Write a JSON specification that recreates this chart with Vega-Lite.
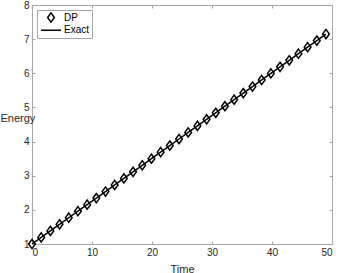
{
  "$schema": "https://vega.github.io/schema/vega-lite/v6.json",
  "width": 300,
  "height": 239,
  "autosize": "none",
  "padding": {"left": 32, "top": 5, "right": 6, "bottom": 29},
  "background": "white",
  "config": {
    "view": {"stroke": null},
    "font": "Liberation Sans",
    "axis": {
      "domainColor": "#a6a6a6",
      "domainWidth": 1,
      "tickColor": "#a6a6a6",
      "tickSize": -3,
      "grid": false,
      "labelFontSize": 10,
      "labelColor": "#262626",
      "labelPadding": 6,
      "titleFontSize": 11,
      "titleFontWeight": "normal",
      "titleColor": "#262626"
    }
  },
  "data": {
    "values": [
      {"t": 0, "E": 1.0},
      {"t": 1.531, "E": 1.192},
      {"t": 3.063, "E": 1.384},
      {"t": 4.594, "E": 1.577},
      {"t": 6.125, "E": 1.769},
      {"t": 7.656, "E": 1.961},
      {"t": 9.188, "E": 2.153},
      {"t": 10.719, "E": 2.345},
      {"t": 12.25, "E": 2.537},
      {"t": 13.781, "E": 2.730},
      {"t": 15.313, "E": 2.922},
      {"t": 16.844, "E": 3.114},
      {"t": 18.375, "E": 3.306},
      {"t": 19.906, "E": 3.498},
      {"t": 21.438, "E": 3.690},
      {"t": 22.969, "E": 3.883},
      {"t": 24.5, "E": 4.075},
      {"t": 26.031, "E": 4.267},
      {"t": 27.563, "E": 4.459},
      {"t": 29.094, "E": 4.651},
      {"t": 30.625, "E": 4.843},
      {"t": 32.156, "E": 5.036},
      {"t": 33.688, "E": 5.228},
      {"t": 35.219, "E": 5.420},
      {"t": 36.75, "E": 5.612},
      {"t": 38.281, "E": 5.804},
      {"t": 39.813, "E": 5.996},
      {"t": 41.344, "E": 6.189},
      {"t": 42.875, "E": 6.381},
      {"t": 44.406, "E": 6.573},
      {"t": 45.938, "E": 6.765},
      {"t": 47.469, "E": 6.957},
      {"t": 49, "E": 7.150}
    ]
  },
  "resolve": {"axis": {"x": "independent", "y": "independent"}},
  "layer": [
    {
      "mark": {"type": "line", "color": "black", "strokeWidth": 1.5},
      "encoding": {
        "x": {
          "field": "t", "type": "quantitative",
          "scale": {"domain": [0, 50], "nice": false, "zero": false},
          "axis": {"orient": "bottom", "title": "Time", "values": [0, 10, 20, 30, 40, 50], "titleBaseline": "alphabetic", "titleY": 28}
        },
        "y": {
          "field": "E", "type": "quantitative",
          "scale": {"domain": [1, 8], "nice": false, "zero": false},
          "axis": {"orient": "left", "title": "Energy", "values": [1, 2, 3, 4, 5, 6, 7, 8], "titleAngle": 0, "titleX": -32, "titleY": 116, "titleAlign": "left", "titleBaseline": "alphabetic"}
        }
      }
    },
    {
      "mark": {"type": "point", "filled": false, "color": "black", "strokeWidth": 1.5, "size": 484, "opacity": 1},
      "encoding": {
        "x": {
          "field": "t", "type": "quantitative",
          "scale": {"domain": [0, 50], "nice": false, "zero": false},
          "axis": {"orient": "top", "title": null, "labels": false, "values": [0, 10, 20, 30, 40, 50]}
        },
        "y": {
          "field": "E", "type": "quantitative",
          "scale": {"domain": [1, 8], "nice": false, "zero": false},
          "axis": {"orient": "right", "title": null, "labels": false, "values": [1, 2, 3, 4, 5, 6, 7, 8]}
        },
        "shape": {
          "datum": "DP",
          "scale": {"domain": ["DP", "Exact"], "range": ["M0,-0.418L0.305,0L0,0.418L-0.305,0Z", "M-0.91,0L0.91,0"]},
          "legend": {
            "title": null,
            "orient": "none",
            "legendX": 5,
            "legendY": 5,
            "padding": 2,
            "strokeColor": "#a6a6a6",
            "fillColor": "white",
            "symbolStrokeColor": "black",
            "symbolFillColor": "transparent",
            "symbolStrokeWidth": 1.5,
            "symbolSize": 484,
            "clipHeight": 11,
            "labelFontSize": 10,
            "labelColor": "black",
            "labelOffset": 1,
            "rowPadding": 1.7
          }
        }
      }
    }
  ]
}
